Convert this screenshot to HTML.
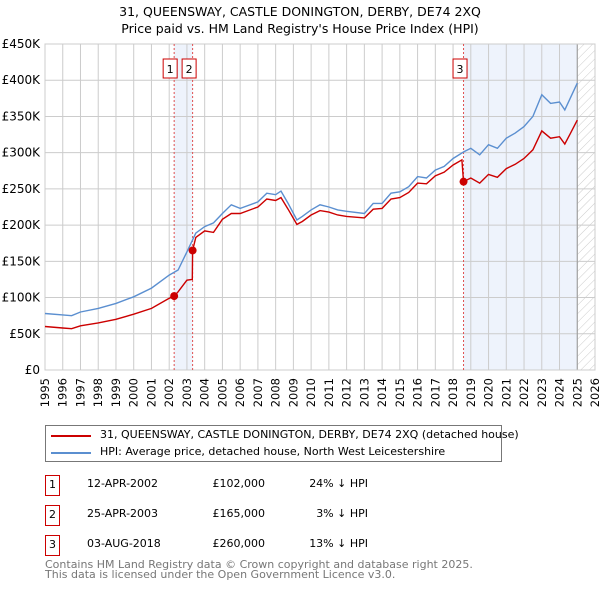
<!DOCTYPE html>
<html><head><meta charset="utf-8"><style>
body{margin:0;background:#fff;font-family:"DejaVu Sans","Liberation Sans",sans-serif;}
#wrap{position:relative;width:600px;height:590px;overflow:hidden;}
.t{position:absolute;font-size:11px;color:#000;white-space:nowrap;}
</style></head><body><div id="wrap">
<svg id="svg" width="600" height="590" style="position:absolute;left:0;top:0">
<defs><pattern id="hatch" width="6" height="6" patternUnits="userSpaceOnUse" patternTransform="rotate(45)"><line x1="0" y1="0" x2="0" y2="6" stroke="#ccc" stroke-width="1"/></pattern></defs>
<text x="300" y="16" text-anchor="middle" font-size="12.5" font-family="DejaVu Sans,sans-serif">31, QUEENSWAY, CASTLE DONINGTON, DERBY, DE74 2XQ</text>
<text x="300" y="33" text-anchor="middle" font-size="12.5" font-family="DejaVu Sans,sans-serif">Price paid vs. HM Land Registry's House Price Index (HPI)</text>
<g id="plot"></g>
</svg>
<div style="position:absolute;left:45px;top:425px;width:455px;height:35px;border:1px solid #777;">
<div style="position:absolute;left:5px;top:9px;width:40px;height:2px;background:#cc0000"></div>
<div class="t" style="left:54px;top:2px">31, QUEENSWAY, CASTLE DONINGTON, DERBY, DE74 2XQ (detached house)</div>
<div style="position:absolute;left:5px;top:26px;width:40px;height:2px;background:#5b8fd0"></div>
<div class="t" style="left:54px;top:19px">HPI: Average price, detached house, North West Leicestershire</div>
</div>
<div id="tbl"></div>
<div class="t" style="left:45px;top:560px;color:#777;font-size:11px;line-height:10px">Contains HM Land Registry data © Crown copyright and database right 2025.<br>This data is licensed under the Open Government Licence v3.0.</div>
</div>
<script>
const hpiYears=[1995,1996,1996.5,1997,1998,1999,2000,2001,2002,2002.5,2003,2003.5,2004,2004.5,2005,2005.5,2006,2007,2007.5,2008,2008.3,2008.7,2009.2,2009.5,2010,2010.5,2011,2011.5,2012,2013,2013.5,2014,2014.5,2015,2015.5,2016,2016.5,2017,2017.5,2018,2018.6,2019,2019.5,2020,2020.5,2021,2021.5,2022,2022.5,2023,2023.5,2024,2024.3,2024.6,2025];
const hpiValues=[78,76,75,80,85,92,101,113,131,138,163,189,198,203,216,228,223,232,244,242,247,230,207,212,221,228,225,221,219,216,230,230,244,246,253,267,265,276,281,292,301,306,297,311,306,320,327,336,350,380,368,370,359,375,396];
const redYears=[1995,1996,1996.5,1997,1998,1999,2000,2001,2002,2002.28,2002.5,2003,2003.3,2003.32,2003.5,2004,2004.5,2005,2005.5,2006,2007,2007.5,2008,2008.3,2008.7,2009.2,2009.5,2010,2010.5,2011,2011.5,2012,2013,2013.5,2014,2014.5,2015,2015.5,2016,2016.5,2017,2017.5,2018,2018.5,2018.58,2018.59,2019,2019.5,2020,2020.5,2021,2021.5,2022,2022.5,2023,2023.5,2024,2024.3,2024.6,2025];
const redValues=[60,58,57,61,65,70,77,85,99,102,108,124,125,165,183,192,190,208,216,216,225,236,234,238,222,201,205,214,220,218,214,212,210,222,223,236,238,245,258,257,268,273,283,290,262,260,265,258,270,266,278,284,292,304,330,320,322,312,326,345];
const saleLabels=["1","2","3"];
const saleDates=[2002.28,2003.32,2018.59];
const salePrices=[102,165,260];
const saleDateText=["12-APR-2002","25-APR-2003","03-AUG-2018"];
const salePriceText=["£102,000","£165,000","£260,000"];
const saleHpiText=["24% ↓ HPI","3% ↓ HPI","13% ↓ HPI"];
const yTicks=[0,50,100,150,200,250,300,350,400,450];
const yTickLabels=["£0","£50K","£100K","£150K","£200K","£250K","£300K","£350K","£400K","£450K"];
const xTicks=[1995,1996,1997,1998,1999,2000,2001,2002,2003,2004,2005,2006,2007,2008,2009,2010,2011,2012,2013,2014,2015,2016,2017,2018,2019,2020,2021,2022,2023,2024,2025,2026];
const dataEnd=2025.0;

const X0=45,X1=595,Y0=370,Y1=44;
const xs=v=>X0+(v-1995)/(2026-1995)*(X1-X0);
const ys=v=>Y0-v/450*(Y0-Y1);
const NS="http://www.w3.org/2000/svg";
const g=document.getElementById('plot');
function mk(tag,attrs,name){const e=document.createElementNS(NS,tag);for(const k in attrs)e.setAttribute(k,attrs[k]);


g.appendChild(e);return e;}
mk('rect',{x:X0,y:Y1,width:X1-X0,height:Y0-Y1,fill:'#fff'},'plot-area');
mk('rect',{x:xs(saleDates[0]),y:Y1,width:xs(saleDates[1])-xs(saleDates[0]),height:Y0-Y1,fill:'#eef3fc'},'shade-sale-1-2');
mk('rect',{x:xs(saleDates[2]),y:Y1,width:xs(dataEnd)-xs(saleDates[2]),height:Y0-Y1,fill:'#eef3fc'},'shade-sale-3');
mk('rect',{x:xs(dataEnd),y:Y1,width:X1-xs(dataEnd),height:Y0-Y1,fill:'url(#hatch)'},'forecast-hatch');
yTicks.forEach((v,i)=>{mk('line',{x1:X0,x2:X1,y1:ys(v),y2:ys(v),stroke:'#ccc','stroke-width':1},'y-gridline');
const t=mk('text',{x:X0-5,y:ys(v)+4,'text-anchor':'end','font-size':12,'font-family':'DejaVu Sans,sans-serif'},'y-tick-label');t.textContent=yTickLabels[i];});
xTicks.forEach(v=>{mk('line',{x1:xs(v),x2:xs(v),y1:Y1,y2:Y0,stroke:'#ccc','stroke-width':1},'x-gridline');
const t=mk('text',{x:0,y:0,'text-anchor':'end','font-size':11.5,'font-family':'DejaVu Sans,sans-serif',transform:`translate(${xs(v)+4},${Y0+8}) rotate(-90)`},'x-tick-label');t.textContent=v;});
mk('line',{x1:xs(dataEnd),x2:xs(dataEnd),y1:Y1,y2:Y0,stroke:'#999','stroke-width':1},'data-end-line');
mk('rect',{x:X0,y:Y1,width:X1-X0,height:Y0-Y1,fill:'none',stroke:'#ccc'},'plot-border');
saleDates.forEach((d,i)=>{mk('line',{x1:xs(d),x2:xs(d),y1:Y1,y2:Y0,stroke:'#e05050','stroke-width':1,'stroke-dasharray':'2,2'},'sale-marker-line');});
const pts=(xa,ya)=>xa.map((x,i)=>xs(x).toFixed(1)+','+ys(ya[i]).toFixed(1)).join(' ');
mk('polyline',{points:pts(hpiYears,hpiValues),fill:'none',stroke:'#5b8fd0','stroke-width':1.4},'hpi-line');
mk('polyline',{points:pts(redYears,redValues),fill:'none',stroke:'#cc0000','stroke-width':1.4},'property-price-line');
saleDates.forEach((d,i)=>{mk('circle',{cx:xs(d),cy:ys(salePrices[i]),r:4,fill:'#cc0000'},'sale-point');
const bx=xs(d)-(i==0?11:10.5);
mk('rect',{x:bx,y:59,width:14,height:19,fill:'#fff',stroke:'#cc0000'},'sale-label-box');
const t=mk('text',{x:bx+7,y:73,'text-anchor':'middle','font-size':11,'font-family':'DejaVu Sans,sans-serif'},'sale-label');t.textContent=saleLabels[i];});
const tbl=document.getElementById('tbl');
saleLabels.forEach((l,i)=>{const top=475+i*30;
const row=document.createElement('div');


row.innerHTML=`<div style="position:absolute;left:45px;top:${top}px;width:13px;height:19px;border:1px solid #cc0000;font-size:11px;text-align:center;line-height:17px">${l}</div>
<div class="t" style="left:87px;top:${top+2}px;width:70px;text-align:right">${saleDateText[i]}</div>
<div class="t" style="left:200px;top:${top+2}px;width:65px;text-align:right">${salePriceText[i]}</div>
<div class="t" style="left:300px;top:${top+2}px;width:68px;text-align:right">${saleHpiText[i]}</div>`;
tbl.appendChild(row);});
</script></body></html>
